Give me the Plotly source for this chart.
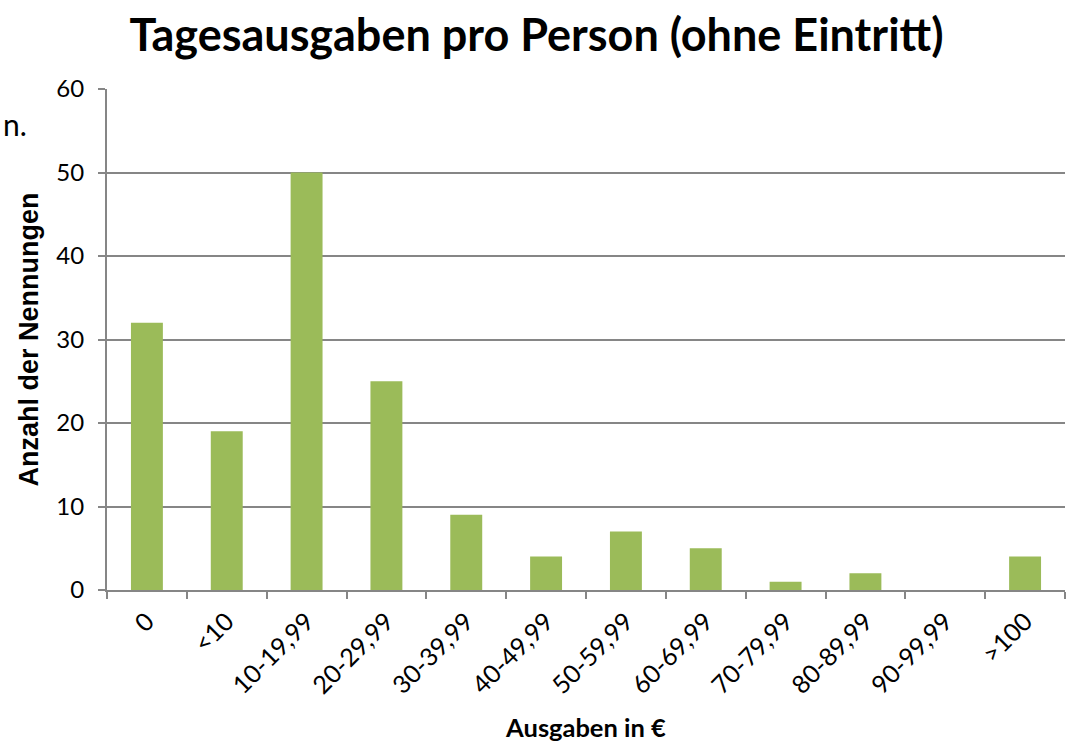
import plotly.graph_objects as go

# Spending brackets (EUR per person per day) and number of mentions
categories = ["0", "<10", "10-19,99", "20-29,99", "30-39,99", "40-49,99",
              "50-59,99", "60-69,99", "70-79,99", "80-89,99", "90-99,99", ">100"]
counts = [32, 19, 50, 25, 9, 4, 7, 5, 1, 2, 0, 4]
y_ticks = [0, 10, 20, 30, 40, 50, 60]

fig = go.Figure(go.Bar(
    x=categories,
    y=counts,
    marker=dict(color="#9BBB59", line=dict(width=0)),
))

fig.update_layout(
    width=1073, height=742,
    margin=dict(l=107, r=8, t=89, b=152),
    paper_bgcolor="white", plot_bgcolor="white",
    bargap=0.6,
    showlegend=False,
    title=dict(
        text="<b>Tagesausgaben pro Person (ohne Eintritt)</b>",
        x=0.5, xanchor="center", y=0.952, yanchor="middle",
        font=dict(family="Lato", size=45, color="black"),
    ),
    font=dict(family="Lato", color="black"),
)

fig.update_xaxes(
    type="category",
    automargin=False,
    tickson="boundaries",
    ticks="outside", ticklen=7, tickcolor="#868686", tickwidth=2,
    tickangle=-45,
    ticklabelstandoff=5,
    tickfont=dict(family="Lato", size=25, color="black"),
    showline=True, linecolor="#868686", linewidth=2,
    showgrid=False,
    title=dict(text="<b>Ausgaben in €</b>", standoff=24,
               font=dict(family="Lato", size=25.5, color="black")),
)

fig.update_yaxes(
    range=[0, 60],
    automargin=False,
    tickvals=y_ticks,
    ticks="outside", ticklen=7, tickcolor="#868686", tickwidth=2,
    ticklabelstandoff=9,
    tickfont=dict(family="Lato", size=24, color="black"),
    showline=True, linecolor="#868686", linewidth=2,
    showgrid=True, gridcolor="#868686", gridwidth=1.5,
    zeroline=False,
    title=dict(text="<b>Anzahl der Nennungen</b>", standoff=10,
               font=dict(family="Liberation Sans", size=27, color="black")),
)

# leftover text fragment at the left edge
fig.add_annotation(
    text="n.", xref="paper", yref="paper",
    x=-0.1106, y=0.93, xanchor="left", yanchor="middle",
    showarrow=False, font=dict(family="Lato", size=30, color="black"),
)

fig.write_html("out.html")
